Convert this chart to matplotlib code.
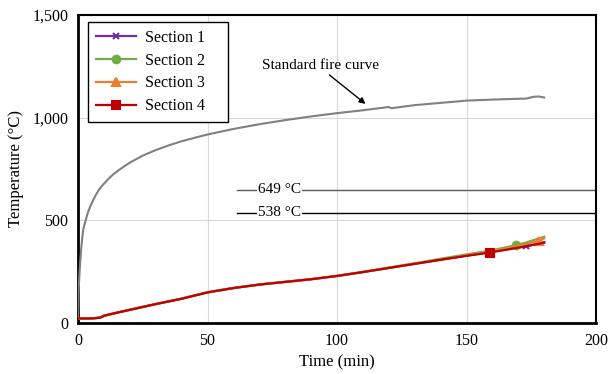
import matplotlib
matplotlib.use('Agg')
import matplotlib.pyplot as plt
from matplotlib.ticker import FuncFormatter, MultipleLocator

plt.rcParams['font.family'] = ['Liberation Serif', 'DejaVu Serif']

# standard fire curve
fire_t = [0, 0.2, 0.5, 0.8, 1.2, 1.6, 2, 2.5, 3, 3.5, 4, 5, 6, 7, 8, 9, 10, 12, 14, 17,
          20, 25, 30, 35, 40, 45, 50, 60, 70, 80, 90, 100, 110, 120, 121, 130, 140, 150,
          160, 170, 173, 176, 178, 180]
fire_T = [20, 150, 225, 290, 356, 410, 453, 480, 502, 525, 544, 576, 602, 626, 647, 664,
          678, 705, 728, 756, 781, 815, 842, 865, 885, 902, 918, 945, 968, 988, 1006,
          1022, 1036, 1052, 1046, 1061, 1072, 1083, 1088, 1092, 1093, 1102, 1103, 1098]

# section temperatures
sec_t = [0, 2, 4, 6, 8, 9, 10, 15, 20, 25, 30, 40, 50, 60, 70, 80, 90, 100, 110,
         120, 130, 140, 150, 159, 165, 169, 173, 178, 180]
sec1 = [22, 22, 22, 23, 25, 28, 35, 50, 64, 78, 92, 118, 149, 170, 187, 200, 213, 229,
        248, 268, 288, 308, 328, 345, 358, 366, 373, 388, 394]
sec2 = [22, 22, 22, 23, 26, 30, 36, 51, 65, 79, 93, 119, 150, 171, 188, 201, 214, 230,
        249, 270, 291, 313, 334, 352, 368, 379, 392, 412, 420]
sec3 = [22, 22, 22, 23, 26, 29, 35, 50, 64, 78, 92, 118, 149, 170, 187, 200, 213, 229,
        248, 269, 289, 309, 329, 347, 362, 373, 385, 400, 412]
sec4 = [22, 22, 22, 23, 25, 28, 35, 50, 64, 78, 92, 118, 149, 170, 187, 200, 213, 229,
        248, 268, 288, 308, 327, 343, 356, 365, 374, 386, 391]
labels = ['Section 1', 'Section 2', 'Section 3', 'Section 4']
marker_t = [173, 169, 178, 159]

limits = [649, 538]
limit_labels = ['649 °C', '538 °C']

fig = plt.figure(figsize=(6.08, 3.74), dpi=100)
ax = fig.add_axes([0.1283, 0.1364, 0.852, 0.8235])

ax.plot(fire_t, fire_T, color='#808080', lw=1.5, zorder=3)

styles = [('#7030A0', 'x', 4.5), ('#70AD47', 'o', 5.5), ('#ED7D31', '^', 5.5), ('#C00000', 's', 5.5)]
for vals, lab, mt, (c, m, ms) in zip([sec1, sec2, sec3, sec4], labels, marker_t, styles):
    ax.plot(sec_t, vals, color=c, lw=1.6, marker=m, ms=ms, mew=1.5,
            markevery=[sec_t.index(mt)], label=lab, zorder=4)

# limit lines with labels sitting on them
for y, txt, c in zip(limits, limit_labels, ['#595959', 'black']):
    ax.plot([61.5, 200], [y, y], color=c, lw=1.0, zorder=2)
    ax.text(69.5, y, txt, fontsize=11, va='center', ha='left',
            bbox=dict(facecolor='white', edgecolor='none', pad=0.5), zorder=2.5)

ax.annotate('Standard fire curve', xy=(111, 1067), xytext=(70.9, 1253),
            fontsize=11, va='center',
            arrowprops=dict(arrowstyle='-|>', color='black', lw=1.0,
                            shrinkA=0, shrinkB=0, mutation_scale=9,
                            relpos=(0.55, 0)))

ax.set_xlim(0, 200)
ax.set_ylim(0, 1500)
ax.xaxis.set_major_locator(MultipleLocator(50))
ax.yaxis.set_major_locator(MultipleLocator(500))
ax.yaxis.set_major_formatter(FuncFormatter(lambda v, p: f'{int(v):,}'))
ax.grid(True, color='#D9D9D9', lw=0.8, zorder=0)
ax.set_axisbelow(True)
ax.tick_params(length=0, labelsize=11.5, pad=7)

for s in ax.spines.values():
    s.set_color('black')
    s.set_linewidth(1.5)
ax.spines['left'].set_linewidth(2)
ax.spines['bottom'].set_linewidth(2)

ax.set_xlabel('Time (min)', fontsize=12, labelpad=4)
ax.set_ylabel('Temperature (°C)', fontsize=12, labelpad=6)

leg = ax.legend(loc='upper left', bbox_to_anchor=(0.019, 0.0, 0.27, 0.977), mode='expand',
                borderaxespad=0, fontsize=11.5, fancybox=False, framealpha=1,
                edgecolor='black', handlelength=2.5, handletextpad=0.6,
                labelspacing=0.42, borderpad=0.5)
leg.get_frame().set_linewidth(1.0)

fig.savefig('out.png', dpi=100)
